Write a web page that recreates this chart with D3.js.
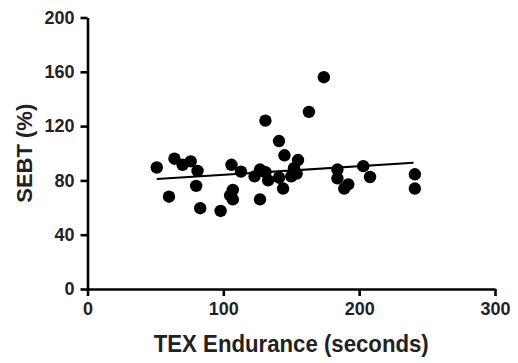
<!DOCTYPE html>
<html>
<head>
  <meta charset="utf-8">
  <script src="https://d3js.org/d3.v7.min.js"></script>
  <style>
    body { margin: 0; background: #fff; }
    text { font-family: Arial, "Liberation Sans", sans-serif; font-weight: bold; fill: #222; }
  </style>
</head>
<body>
  <script>
    // TEX endurance (s) vs SEBT (%)
    var texEndurance = [51, 60, 64, 70, 76, 80, 81, 83, 98, 106, 105, 107, 107, 113,
                        123, 127, 131, 133, 127, 131, 141, 145, 141, 144, 152, 154, 155, 150,
                        163, 174, 184, 184, 189, 192, 203, 208, 241, 241];
    var sebt = [89.5, 68, 96, 91.5, 94, 76, 87, 59.5, 57.5, 91.5, 69, 73, 66, 86.5,
                83, 88, 86, 80, 66, 124, 109, 98.5, 82, 74, 89, 85, 95, 83,
                130.5, 156, 88, 81.5, 74, 77, 90.5, 82.5, 84.5, 74];
    // fitted line end points
    var fitX = [51, 240];
    var fitY = [81, 93];

    var xTicks = [0, 100, 200, 300];
    var yTicks = [0, 40, 80, 120, 160, 200];

    var width = 518, height = 363;
    var svg = d3.select("body").append("svg")
        .attr("width", width)
        .attr("height", height);

    var x = d3.scaleLinear().domain([0, 300]).range([87.5, 495]);
    var y = d3.scaleLinear().domain([0, 200]).range([289, 17.5]);

    var xAxis = svg.append("g")
        .attr("transform", "translate(0," + y(0) + ")")
        .call(d3.axisBottom(x).tickValues(xTicks).tickSize(7).tickSizeOuter(0).tickPadding(6));
    var yAxis = svg.append("g")
        .attr("transform", "translate(" + x(0) + ",0)")
        .call(d3.axisLeft(y).tickValues(yTicks).tickSize(7).tickSizeOuter(0).tickPadding(6));

    [xAxis, yAxis].forEach(function(g) {
      g.select(".domain").attr("stroke", "#000").attr("stroke-width", 2.6);
      g.selectAll(".tick line").attr("stroke", "#000").attr("stroke-width", 2.6);
      g.selectAll(".tick text")
        .attr("fill", "#222")
        .style("font-family", "Arial, 'Liberation Sans', sans-serif")
        .style("font-weight", "bold")
        .style("font-size", "18px");
    });

    var pts = texEndurance.map(function(d, i) { return {x: d, y: sebt[i]}; });
    svg.append("g").selectAll("circle")
        .data(pts)
      .enter().append("circle")
        .attr("cx", function(d) { return x(d.x); })
        .attr("cy", function(d) { return y(d.y); })
        .attr("r", 6.2)
        .attr("fill", "#000");

    var line = d3.line()
        .x(function(d) { return x(d[0]); })
        .y(function(d) { return y(d[1]); });
    svg.append("path")
        .datum(fitX.map(function(d, i) { return [d, fitY[i]]; }))
        .attr("d", line)
        .attr("fill", "none")
        .attr("stroke", "#000")
        .attr("stroke-width", 2);

    svg.append("text")
        .attr("x", (x(0) + x(300)) / 2)
        .attr("y", 352)
        .attr("text-anchor", "middle")
        .attr("font-size", 23)
        .attr("textLength", 275)
        .attr("lengthAdjust", "spacingAndGlyphs")
        .text("TEX Endurance (seconds)");

    svg.append("text")
        .attr("transform", "translate(31.5," + (y(0) + y(200)) / 2 + ") rotate(-90)")
        .attr("text-anchor", "middle")
        .attr("font-size", 22)
        .text("SEBT (%)");
  </script>
</body>
</html>
